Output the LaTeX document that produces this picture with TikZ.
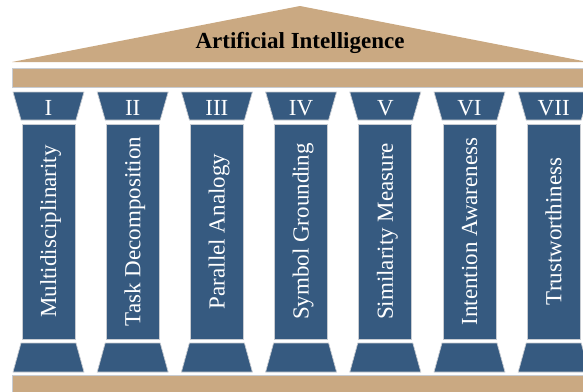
\documentclass[tikz,border=0pt]{standalone}
\usepackage{fontspec}
\setmainfont{Liberation Serif}
\definecolor{pillar}{RGB}{54,90,128}
\definecolor{stone}{RGB}{202,169,130}
\definecolor{rim}{RGB}{200,204,210}
\begin{document}
\begin{tikzpicture}[x=1pt,y=-1pt,
 tanpart/.style={fill=stone,draw=rim,line width=0.7pt},
 bluepart/.style={fill=pillar,draw=rim,line width=0.7pt},
 numeral/.style={text=white,font=\fontsize{23}{23}\selectfont,inner sep=0pt,anchor=base},
 pillartext/.style={text=white,font=\fontsize{23}{23}\selectfont,rotate=90,inner sep=0pt,anchor=base},
 titletext/.style={font=\fontsize{23}{23}\selectfont\bfseries,inner sep=0pt,anchor=base}]
\path[use as bounding box] (0,0) rectangle (583,391);
% roof
\fill[stone] (12,62) -- (300,6) -- (588,62) -- cycle;
\node[titletext] (title) at (300,48) {Artificial Intelligence};
% entablature and stylobate
\draw[tanpart] (12,68) rectangle (592,87);
\draw[tanpart] (12,375) rectangle (592,396);
% columns
\foreach \i/\n/\t in {0/I/Multidisciplinarity,1/II/Task Decomposition,2/III/Parallel Analogy,3/IV/Symbol Grounding,4/V/Similarity Measure,5/VI/Intention Awareness,6/VII/Trustworthiness} {
  \pgfmathsetmacro\cx{48.5+84.2*\i}
  \draw[bluepart] (\cx-35.5,92) -- (\cx+35.5,92) -- (\cx+27.5,120) -- (\cx-27.5,120) -- cycle;
  \draw[bluepart] (\cx-26.5,124) rectangle (\cx+26.5,339);
  \draw[bluepart] (\cx-27.5,343) -- (\cx+27.5,343) -- (\cx+35.5,372) -- (\cx-35.5,372) -- cycle;
  \node[numeral] (num\i) at (\cx,115) {\n};
  \node[pillartext] (lab\i) at (\cx+7.6,231.5) {\t};
}
\end{tikzpicture}
\end{document}
